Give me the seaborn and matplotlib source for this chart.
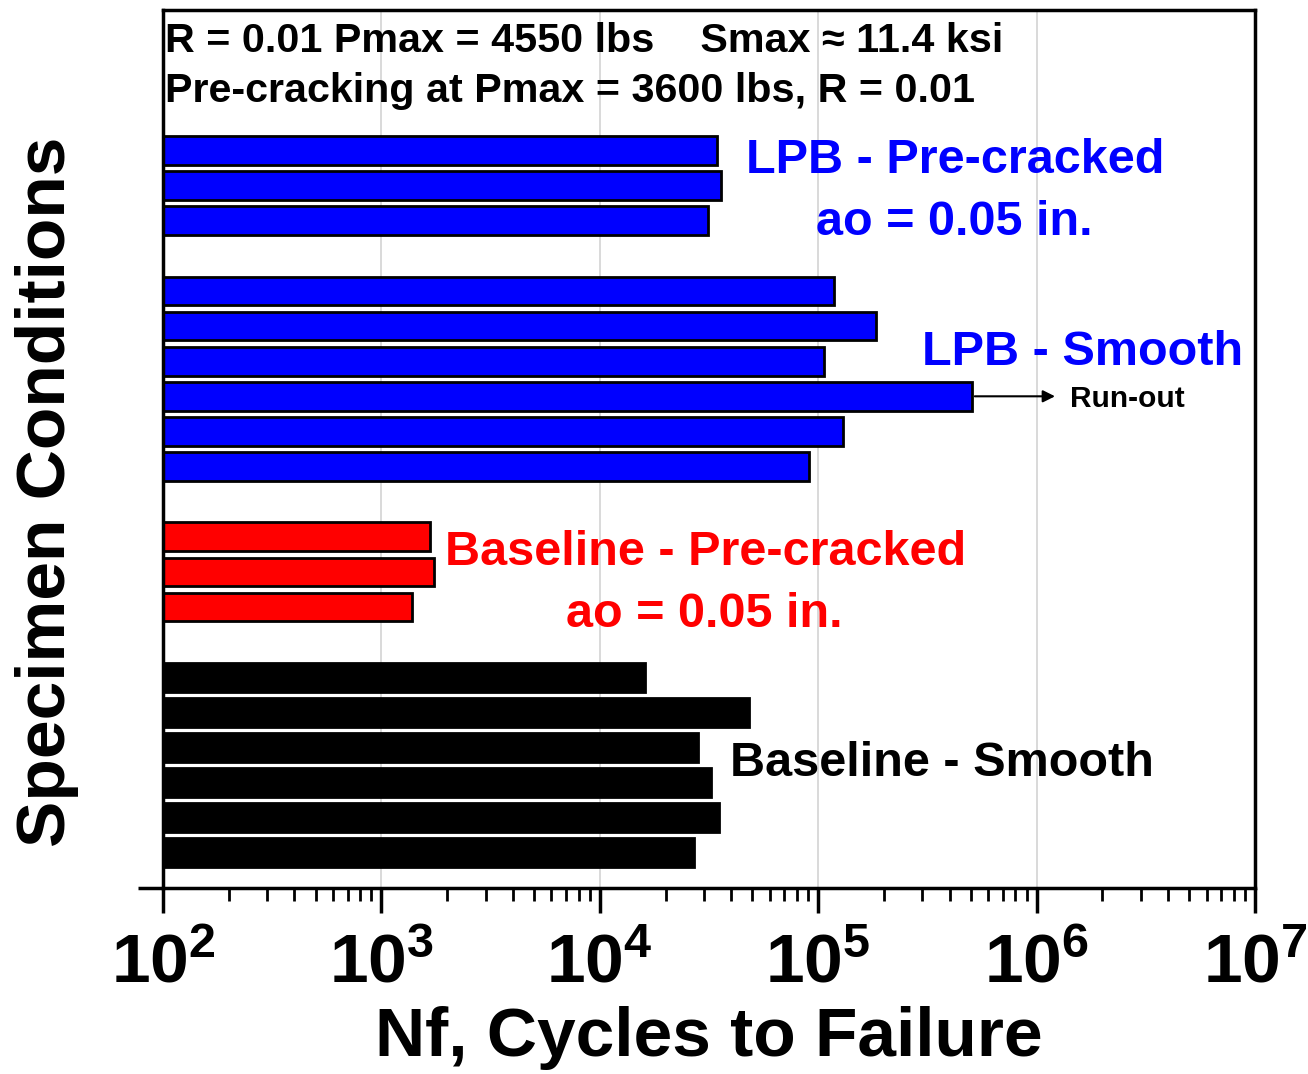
import matplotlib
matplotlib.use("Agg")
import matplotlib.pyplot as plt
import matplotlib.ticker as mticker
import seaborn as sns
import numpy as np
import pandas as pd

# 데이터 (막대 위에서 아래 순서)
lpb_pre = [34400, 35900, 31300]
lpb_smooth = [118000, 184000, 106000, 506000, 130000, 90800]
base_pre = [1670, 1740, 1380]
base_smooth = [16100, 48200, 28200, 32300, 35100, 27000]

# 각 그룹의 막대 위치 (아래에서부터 슬롯 번호)
lpb_pre_slots = [20, 19, 18]
lpb_smooth_slots = [16, 15, 14, 13, 12, 11]
base_pre_slots = [9, 8, 7]
base_smooth_slots = [5, 4, 3, 2, 1, 0]

colors = {"LPB Pre-cracked": "#0000FF", "LPB Smooth": "#0000FF",
          "Baseline Pre-cracked": "#FF0000", "Baseline Smooth": "#000000"}

df = pd.concat([
    pd.DataFrame({"cycles": lpb_pre, "slot": lpb_pre_slots, "group": "LPB Pre-cracked"}),
    pd.DataFrame({"cycles": lpb_smooth, "slot": lpb_smooth_slots, "group": "LPB Smooth"}),
    pd.DataFrame({"cycles": base_pre, "slot": base_pre_slots, "group": "Baseline Pre-cracked"}),
    pd.DataFrame({"cycles": base_smooth, "slot": base_smooth_slots, "group": "Baseline Smooth"}),
], ignore_index=True)

sns.set_style("ticks")
plt.rcParams["font.family"] = ["Liberation Sans", "DejaVu Sans"]
plt.rcParams["font.weight"] = "bold"
plt.rcParams["text.color"] = "black"
plt.rcParams["axes.labelcolor"] = "black"
plt.rcParams["xtick.color"] = "black"
plt.rcParams["ytick.color"] = "black"
plt.rcParams["mathtext.fontset"] = "custom"
plt.rcParams["mathtext.bf"] = "Liberation Sans:bold"
plt.rcParams["mathtext.rm"] = "Liberation Sans:bold"

fig = plt.figure(figsize=(13.08, 10.74), dpi=100)
ax = fig.add_axes([0.1246, 0.1732, 0.8349, 0.8175])

sns.barplot(data=df, x="cycles", y="slot", hue="group", palette=colors,
            orient="h", native_scale=True, dodge=False, width=0.82, saturation=1,
            edgecolor="black", linewidth=2, legend=False, ax=ax)

ax.set_xscale("log")
ax.set_xlim(1e2, 1e7)
ax.set_ylim(-1, 24.0)

# 눈금
ax.xaxis.set_major_locator(mticker.LogLocator(base=10, numticks=10))
ax.xaxis.set_minor_locator(mticker.LogLocator(base=10, subs=np.arange(2, 10), numticks=100))
ax.xaxis.set_major_formatter(mticker.FuncFormatter(lambda v, p: r"$\mathbf{10^{%d}}$" % round(np.log10(v))))
ax.xaxis.set_minor_formatter(mticker.NullFormatter())
ax.tick_params(axis="x", which="major", length=18, width=2.5, labelsize=50, pad=14)
ax.tick_params(axis="x", which="minor", length=9, width=2)
ax.set_yticks([-1])
ax.set_yticklabels([""])
ax.tick_params(axis="y", length=18, width=2.5)

for s in ax.spines.values():
    s.set_linewidth(2.5)
    s.set_color("black")

ax.grid(axis="x", which="major", color="#d3d3d3", lw=1.2)
ax.set_axisbelow(True)

ax.set_xlabel("Nf, Cycles to Failure", fontsize=50, fontweight="bold", labelpad=7)
ax.set_ylabel("Specimen Conditions", fontsize=50, fontweight="bold")
ax.yaxis.set_label_coords(-0.077, 0.451)

# 주석
ax.text(0.002, 0.952, "R = 0.01 Pmax = 4550 lbs    Smax \u2248 11.4 ksi",
        transform=ax.transAxes, fontsize=29.7, fontweight="bold", va="baseline")
ax.text(0.002, 0.895, "Pre-cracking at Pmax = 3600 lbs, R = 0.01",
        transform=ax.transAxes, fontsize=29.7, fontweight="bold", va="baseline")

ax.text(0.725, 0.814, "LPB - Pre-cracked", transform=ax.transAxes, ha="center",
        va="baseline", fontsize=35, fontweight="bold", color="#0000FF")
ax.text(0.725, 0.744, "ao = 0.05 in.", transform=ax.transAxes, ha="center",
        va="baseline", fontsize=35, fontweight="bold", color="#0000FF")
ax.text(0.842, 0.596, "LPB - Smooth", transform=ax.transAxes, ha="center",
        va="baseline", fontsize=35, fontweight="bold", color="#0000FF")
ax.text(0.497, 0.368, "Baseline - Pre-cracked", transform=ax.transAxes, ha="center",
        va="baseline", fontsize=35, fontweight="bold", color="#FF0000")
ax.text(0.496, 0.297, "ao = 0.05 in.", transform=ax.transAxes, ha="center",
        va="baseline", fontsize=35, fontweight="bold", color="#FF0000")
ax.text(0.713, 0.1276, "Baseline - Smooth", transform=ax.transAxes, ha="center",
        va="baseline", fontsize=35, fontweight="bold", color="black")

# Run-out 화살표
runout = max(lpb_smooth)
runout_slot = lpb_smooth_slots[lpb_smooth.index(runout)]
ax.annotate("", xy=(1.25e6, runout_slot), xytext=(runout, runout_slot),
            arrowprops=dict(arrowstyle="-|>", color="black", lw=1.5, mutation_scale=18))
ax.text(1.42e6, runout_slot - 0.3, "Run-out", fontsize=21.5, fontweight="bold", va="baseline")

fig.savefig("out.png", dpi=100)
